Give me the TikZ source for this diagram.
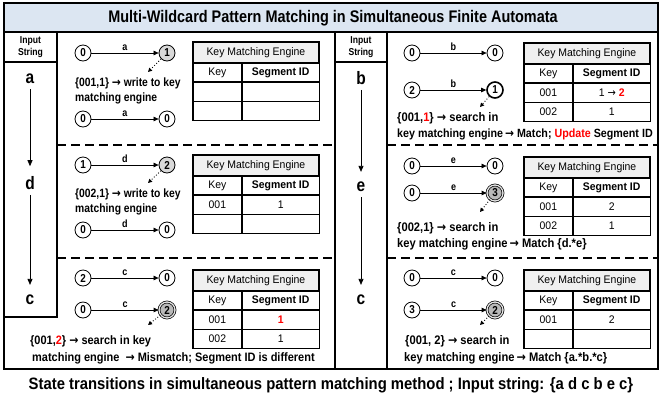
\documentclass[tikz,border=0pt]{standalone}
\usepackage{fontspec}
\setmainfont{Liberation Sans}
\newfontfamily\nf{Liberation Sans}[FakeStretch=0.86]
\newfontfamily\rf{Liberation Sans}[FakeStretch=0.9]
\newfontfamily\cf{Liberation Sans}[FakeStretch=0.9]
\newfontfamily\tf{Liberation Sans}[FakeStretch=0.95]
\newfontfamily\arf{DejaVu Sans}[FakeStretch=0.9]
\newcommand{\rarr}{{\arf →}}
\usetikzlibrary{arrows.meta}
\definecolor{titlebg}{HTML}{DCE6F2}
\definecolor{hdrgray}{HTML}{F0F0F0}
\definecolor{redtxt}{HTML}{FF0000}
\newcommand{\kmetab}[7]{%
  \node[cell, fill=hdrgray, minimum width=125pt, minimum height=20pt, anchor=north west] (#1h) at (#2,#3) {Key Matching Engine};
  \node[cell, minimum width=48pt, anchor=north west] (#1k) at (#1h.south west) {Key};
  \node[cell, minimum width=77pt, anchor=north west, font=\tf\bfseries\fontsize{11}{11}\selectfont] (#1s) at (#1k.north east) {Segment ID};
  \node[cell, minimum width=48pt, anchor=north west] (#1a) at (#1k.south west) {#4};
  \node[cell, minimum width=77pt, anchor=north west] (#1b) at (#1a.north east) {#5};
  \node[cell, minimum width=48pt, anchor=north west] (#1c) at (#1a.south west) {#6};
  \node[cell, minimum width=77pt, anchor=north west] (#1d) at (#1c.north east) {#7};
  \draw[line width=1.4pt] (#1h.north west) rectangle (#1d.south east);
}
\begin{document}
\begin{tikzpicture}[x=1pt,y=-1pt,
  frame/.style={line width=1.6pt},
  sep/.style={line width=1.3pt, dash pattern=on 9pt off 5pt},
  st/.style={circle, draw, line width=0.8pt, minimum size=16pt, inner sep=0pt, font=\nf\bfseries\fontsize{11.5}{11.5}\selectfont},
  stfill/.style={st, fill=gray!30},
  stacc/.style={st, fill=gray!55, double=gray!20, double distance=1.3pt, line width=0.7pt},
  stthick/.style={st, line width=1.6pt},
  tr/.style={-{Triangle[length=5pt,width=4.5pt]}, line width=0.7pt},
  trlab/.style={above, inner sep=2pt, font=\nf\bfseries\fontsize{10.5}{10.5}\selectfont},
  dotarr/.style={dotted, line width=0.9pt, -{Triangle[length=4pt,width=4pt]}},
  note/.style={anchor=base west, inner sep=0pt, font=\nf\bfseries\fontsize{12}{12}\selectfont},
  rnote/.style={anchor=base west, inner sep=0pt, font=\rf\bfseries\fontsize{12.4}{12.4}\selectfont},
  cell/.style={draw, line width=0.8pt, minimum height=18.5pt, inner sep=0pt, font=\tf\fontsize{11}{11}\selectfont},
  inlet/.style={font=\nf\bfseries\fontsize{18}{18}\selectfont, inner sep=2pt},
  colarr/.style={line width=0.8pt, -{Triangle[length=6pt,width=5pt]}, shorten <=3pt, shorten >=8pt}
]
\useasboundingbox (0,0) rectangle (661,405);
\fill[white] (0,0) rectangle (661,405);
% title band and frame
\fill[titlebg] (4,3) rectangle (658,32);
\node[font=\nf\bfseries\fontsize{16.8}{17}\selectfont, inner sep=0pt] (title) at (333,18) {Multi-Wildcard Pattern Matching in Simultaneous Finite Automata};
\draw[frame] (4,3) rectangle (658,369);
\draw[frame] (4,32) -- (658,32);
\draw[frame] (335,32) -- (335,369);
\draw[frame] (57,32) -- (57,317) -- (4,317);
\draw[frame] (4,62) -- (57,62);
\draw[frame] (387,32) -- (387,369);
\draw[frame] (335,62) -- (387,62);
\draw[sep] (57,145) -- (335,145);
\draw[sep] (57,258) -- (335,258);
\draw[sep] (387,145) -- (658,145);
\draw[sep] (387,258) -- (658,258);
% input string columns
\node[font=\nf\bfseries\fontsize{10}{12}\selectfont, align=center, inner sep=0pt] (inl) at (30.5,47) {Input\\String};
\node[font=\nf\bfseries\fontsize{10}{12}\selectfont, align=center, inner sep=0pt] (inr) at (361,47) {Input\\String};
\node[inlet] (ia) at (30,79) {a};
\node[inlet] (id) at (30,183) {d};
\node[inlet] (ic) at (30,300) {c};
\draw[colarr] (ia) -- (id);
\draw[colarr] (id) -- (ic);
\node[inlet] (ib) at (361,78) {b};
\node[inlet] (ie) at (361,187) {e};
\node[inlet] (ic2) at (361,300) {c};
\draw[colarr] (ib) -- (ie);
\draw[colarr] (ie) -- (ic2);

% ---------- Left panel 1 ----------
\node[st] (l1a) at (83,53) {0};
\node[stfill] (l1b) at (167,53) {1};
\draw[tr] (l1a) -- node[trlab] (l1la) {a} (l1b);
\coordinate (l1p) at (148,72);
\draw[dotarr] (l1b) -- (l1p);
\node[note] (l1t1) at (75,86.5) {\{001,1\} \rarr{} write to key};
\node[note] (l1t2) at (75,101) {matching engine};
\node[st] (l1c) at (83,119) {0};
\node[st] (l1d) at (167,119) {0};
\draw[tr] (l1c) -- node[trlab] (l1lb) {a} (l1d);
\kmetab{tl1}{193}{42}{}{}{}{}

% ---------- Left panel 2 ----------
\node[st] (l2a) at (83,165) {1};
\node[stfill] (l2b) at (167,165) {2};
\draw[tr] (l2a) -- node[trlab] (l2la) {d} (l2b);
\coordinate (l2p) at (148,183);
\draw[dotarr] (l2b) -- (l2p);
\node[note] (l2t1) at (75,197.5) {\{002,1\} \rarr{} write to key};
\node[note] (l2t2) at (75,212.5) {matching engine};
\node[st] (l2c) at (83,230) {0};
\node[st] (l2d) at (167,230) {0};
\draw[tr] (l2c) -- node[trlab] (l2lb) {d} (l2d);
\kmetab{tl2}{193}{155}{001}{1}{}{}

% ---------- Left panel 3 ----------
\node[st] (l3a) at (83,278) {2};
\node[st] (l3b) at (167,278) {0};
\draw[tr] (l3a) -- node[trlab] (l3la) {c} (l3b);
\node[st] (l3c) at (83,310) {0};
\node[stacc] (l3d) at (167,310) {2};
\draw[tr] (l3c) -- node[trlab] (l3lb) {c} (l3d);
\coordinate (l3p) at (148,325);
\draw[dotarr] (l3d) -- (l3p);
\node[note, font=\rf\bfseries\fontsize{12.2}{12.2}\selectfont] (l3t1) at (30,344.5) {\{001,\textcolor{redtxt}{2}\} \rarr{} search in key};
\node[note, font=\rf\bfseries\fontsize{12.2}{12.2}\selectfont] (l3t2) at (32,361.5) {matching engine \ \rarr{} Mismatch; Segment ID is different};
\kmetab{tl3}{193}{270}{001}{\textcolor{redtxt}{\bfseries 1}}{002}{1}

% ---------- Right panel 1 ----------
\node[st] (r1a) at (412,53) {0};
\node[st] (r1b) at (495,53) {0};
\draw[tr] (r1a) -- node[trlab] (r1la) {b} (r1b);
\node[st] (r1c) at (412,90) {2};
\node[stthick] (r1d) at (495,90) {1};
\draw[tr] (r1c) -- node[trlab] (r1lb) {b} (r1d);
\coordinate (r1p) at (480,107);
\draw[dotarr] (r1d) -- (r1p);
\node[rnote] (r1t1) at (397,121.5) {\{001,\textcolor{redtxt}{1}\} \rarr{} search in};
\node[rnote, font=\rf\bfseries\fontsize{11.9}{11.9}\selectfont] (r1t2) at (397,137.5) {key matching engine\,\rarr{} Match; \textcolor{redtxt}{Update} Segment ID};
\kmetab{tr1}{524}{43}{001}{1 \rarr{} \textcolor{redtxt}{\bfseries 2}}{002}{1}

% ---------- Right panel 2 ----------
\node[st] (r2a) at (412,166) {0};
\node[st] (r2b) at (495,166) {0};
\draw[tr] (r2a) -- node[trlab] (r2la) {e} (r2b);
\node[st] (r2c) at (412,193) {0};
\node[stacc] (r2d) at (495,193) {3};
\draw[tr] (r2c) -- node[trlab] (r2lb) {e} (r2d);
\coordinate (r2p) at (480,212);
\draw[dotarr] (r2d) -- (r2p);
\node[rnote] (r2t1) at (397,231.5) {\{002,1\} \rarr{} search in};
\node[rnote] (r2t2) at (397,247.5) {key matching engine\,\rarr{} Match \{d.*e\}};
\kmetab{tr2}{524}{157}{001}{2}{002}{1}

% ---------- Right panel 3 ----------
\node[st] (r3a) at (412,278) {0};
\node[st] (r3b) at (495,278) {0};
\draw[tr] (r3a) -- node[trlab] (r3la) {c} (r3b);
\node[st] (r3c) at (412,310) {3};
\node[stacc] (r3d) at (495,310) {2};
\draw[tr] (r3c) -- node[trlab] (r3lb) {c} (r3d);
\coordinate (r3p) at (480,325);
\draw[dotarr] (r3d) -- (r3p);
\node[rnote] (r3t1) at (405,344.5) {\{001, 2\} \rarr{} search in};
\node[rnote] (r3t2) at (404,361.5) {key matching engine\,\rarr{} Match \{a.*b.*c\}};
\kmetab{tr3}{524}{270}{001}{2}{}{}

% caption
\node[font=\cf\bfseries\fontsize{16.5}{17}\selectfont, inner sep=0pt] (cap) at (331,385) {State transitions in simultaneous pattern matching method ; Input string: \{a d c b e c\}};
\end{tikzpicture}
\end{document}
